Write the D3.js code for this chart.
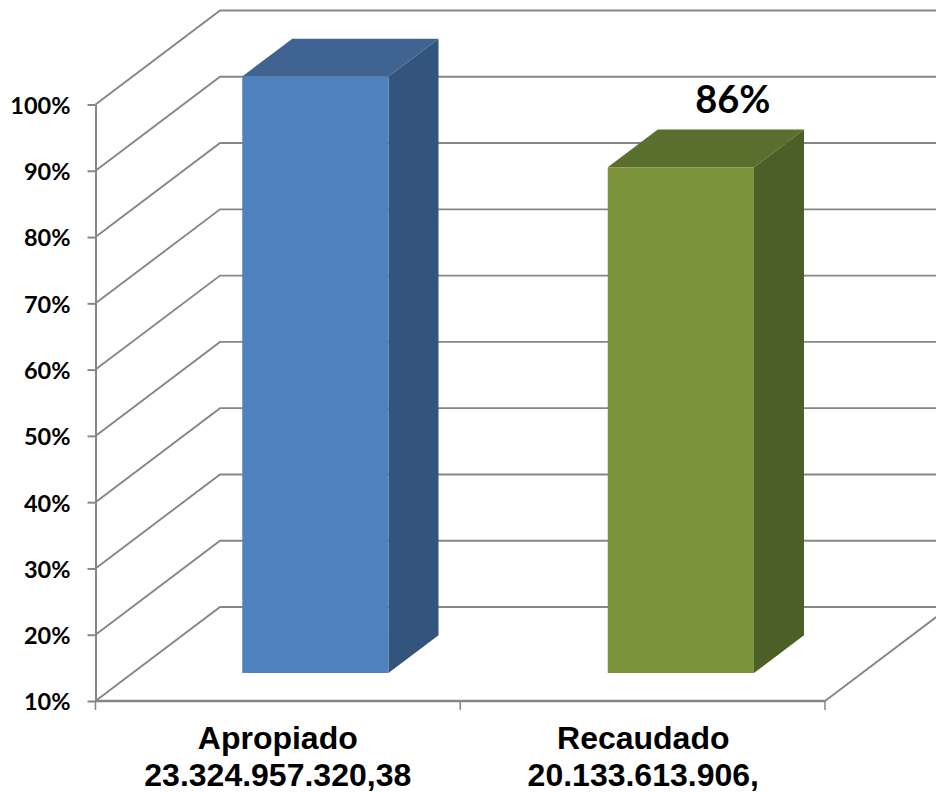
<!DOCTYPE html>
<html>
<head>
<meta charset="utf-8">
<script src="https://cdn.jsdelivr.net/npm/d3@7/dist/d3.min.js"></script>
<style>
html,body{margin:0;padding:0;background:#fff;overflow:hidden}
svg{display:block}
</style>
</head>
<body>
<svg id="chart" width="936" height="792"></svg>
<script>
const categories = ["Apropiado", "Recaudado"];
const categoryValues = ["23.324.957.320,38", "20.133.613.906,"];
const percentValues = [100, 86.3];
const dataLabels = ["", "86%"];
const tickValues = [10, 20, 30, 40, 50, 60, 70, 80, 90, 100];
const frontColors = ["#4F81BD", "#7A933B"];
const topColors = ["#3F6492", "#5A6F2E"];
const sideColors = ["#32547D", "#4C5F26"];

const svg = d3.select("#chart");
const GRID = "#868686";

const x = d3.scaleBand().domain(categories).range([95.5, 826.5]).paddingInner(0.6).paddingOuter(0.3);
const tickX = d3.scalePoint().domain(d3.range(categories.length + 1)).range([95.5, 825]);
const y = d3.scaleLinear().domain([10, 100]).range([701, 104.5]);
const depthX = d3.scaleLinear().domain([0, 1]).range([0, 124.5]);
const depthY = d3.scaleLinear().domain([0, 1]).range([0, -94]);
const barNear = 0.298, barFar = 0.70;

const px = (vx, d) => vx + depthX(d);
const py = (v, d) => y(v) + depthY(d);
const path = pts => d3.line()(pts);

// walls: diagonal + back gridline per tick
const grid = svg.append("g").attr("fill", "none").attr("stroke", GRID).attr("stroke-width", 1.9);
grid.selectAll("path.g").data(tickValues).join("path").attr("class", "g")
  .attr("d", t => path([[px(95.5, 0), py(t, 0)], [px(95.5, 1), py(t, 1)], [px(825, 1), py(t, 1)]]));
// floor right edge
grid.append("path").attr("d", path([[px(825, 0), py(10, 0)], [px(825, 1), py(10, 1)]]));

// value axis
const yAxis = svg.append("g").attr("transform", "translate(95.5,0)")
  .call(d3.axisLeft(y).tickValues(tickValues).tickSize(8).tickSizeOuter(0).tickPadding(17).tickFormat(d => d + "%"));
yAxis.selectAll("path,line").attr("stroke", GRID).attr("stroke-width", 2);
yAxis.selectAll("text").attr("fill", "#000").attr("dy", "0.38em")
  .style("font", "bold 23.5px Lato, 'Noto Sans', sans-serif");

// category axis
const xAxisG = svg.append("g").attr("stroke", GRID);
xAxisG.append("line").attr("x1", tickX(0)).attr("x2", tickX(categories.length))
  .attr("y1", y(10)).attr("y2", y(10)).attr("stroke-width", 2.5);
xAxisG.selectAll("line.t").data(tickX.domain()).join("line").attr("class", "t")
  .attr("x1", d => tickX(d)).attr("x2", d => tickX(d))
  .attr("y1", y(10)).attr("y2", y(10) + 9).attr("stroke-width", 1.5);

// bars
const bars = svg.selectAll("g.bar").data(categories).join("g").attr("class", "bar");
bars.each(function (c, i) {
  const g = d3.select(this);
  const l = x(c), r = l + x.bandwidth(), v = percentValues[i];
  g.append("path").attr("fill", sideColors[i]).attr("d", path([
    [px(r, barNear), py(v, barNear)], [px(r, barFar), py(v, barFar)],
    [px(r, barFar), py(10, barFar)], [px(r, barNear), py(10, barNear)]]) + "Z");
  g.append("path").attr("fill", topColors[i]).attr("d", path([
    [px(l, barNear), py(v, barNear)], [px(l, barFar), py(v, barFar)],
    [px(r, barFar), py(v, barFar)], [px(r, barNear), py(v, barNear)]]) + "Z");
  g.append("path").attr("fill", frontColors[i]).attr("d", path([
    [px(l, barNear), py(v, barNear)], [px(r, barNear), py(v, barNear)],
    [px(r, barNear), py(10, barNear)], [px(l, barNear), py(10, barNear)]]) + "Z");
  if (dataLabels[i]) {
    g.append("text").attr("x", px(l + x.bandwidth() / 2, barNear) + 52).attr("y", py(v, barFar) - 17)
      .attr("text-anchor", "middle").attr("fill", "#000")
      .style("font", "bold 38px Lato, 'Noto Sans', sans-serif").text(dataLabels[i]);
  }
});

// category labels
const labels = svg.selectAll("g.cat").data(categories).join("g").attr("class", "cat")
  .attr("transform", c => `translate(${x(c) + x.bandwidth() / 2 - 0.5},0)`)
  .attr("text-anchor", "middle").attr("fill", "#000")
  .style("font", "bold 32px 'Liberation Sans', Arial, sans-serif");
labels.append("text").attr("y", 749).text(c => c);
labels.append("text").attr("y", 786).text((c, i) => categoryValues[i]);
</script>
</body>
</html>
